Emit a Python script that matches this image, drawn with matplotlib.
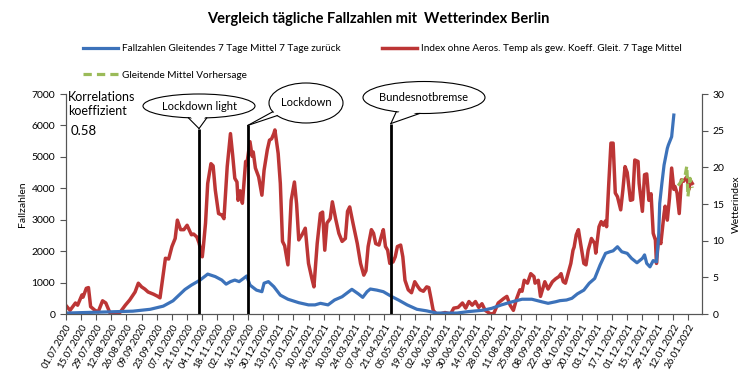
import matplotlib
matplotlib.use("Agg")
import matplotlib.pyplot as plt
import matplotlib.dates as mdates
from matplotlib.patches import Ellipse, Polygon
import numpy as np
import pandas as pd

plt.rcParams['font.family'] = ['Lato', 'DejaVu Sans']

start = pd.Timestamp('2020-07-01')

# Fallzahlen, gleitendes 7-Tage-Mittel (Tage nach 01.07.2020)
blue_days = [0, 32, 62, 78, 90, 99, 110, 116, 124, 131, 138, 144, 148, 152, 156, 160,
             164, 167, 170, 176, 181, 183, 187, 192, 198, 205, 215, 224, 230, 235, 242,
             248, 255, 264, 270, 274, 278, 281, 287, 293, 301, 307, 315, 324, 333, 342,
             361, 371, 385, 393, 402, 412, 421, 430, 439, 445, 452, 456, 462, 467, 472,
             478, 483, 488, 493, 498, 502, 505, 509, 513, 518, 522, 527, 532, 534, 536,
             539, 542, 545, 547, 548, 550, 552, 555, 556, 559, 561]
blue_vals = [30, 60, 90, 150, 250, 420, 780, 920, 1080, 1270, 1190, 1080, 950, 1030, 1080, 1030,
             1130, 1210, 920, 760, 710, 980, 1030, 870, 600, 470, 360, 290, 290, 340, 290,
             445, 550, 785, 640, 530, 710, 795, 760, 710, 550, 445, 290, 150, 100, 30,
             30, 75, 120, 180, 290, 390, 470, 470, 390, 340, 390, 425, 445, 500, 640,
             760, 980, 1130, 1560, 1930, 1980, 2010, 2140, 1980, 1930, 1770, 1630, 1770, 1880, 1610,
             1500, 1700, 1660, 2460, 3520, 4160, 4740, 5270, 5380, 5640, 6330]

# Wetterindex, gleitendes 7-Tage-Mittel
red_days = [0, 4, 9, 11, 15, 16, 19, 21, 23, 27, 30, 34, 37, 41, 46, 50, 55, 59, 64, 67,
            70, 73, 76, 81, 85, 87, 89, 92, 95, 98, 101, 103, 106, 109, 112, 116, 118, 121,
            123, 126, 127, 129, 131, 134, 136, 138, 141, 144, 146, 149, 152, 154, 156, 158,
            159, 161, 163, 166, 167, 170, 172, 173, 175, 178, 181, 183, 186, 188, 190, 192,
            193, 196, 198, 200, 202, 205, 208, 211, 213, 215, 218, 221, 224, 227, 229, 232,
            235, 237, 239, 241, 244, 246, 249, 252, 255, 258, 260, 262, 265, 269, 272, 275,
            277, 279, 282, 284, 286, 289, 291, 293, 295, 297, 299, 302, 304, 306, 309, 311,
            313, 316, 319, 322, 325, 327, 330, 333, 335, 337, 339, 342, 345, 350, 355, 358,
            362, 366, 369, 372, 375, 378, 381, 384, 387, 392, 395, 399, 404, 407, 410, 413,
            416, 419, 421, 423, 426, 429, 432, 433, 436, 438, 440, 442, 445, 449, 452, 455,
            457, 459, 461, 464, 466, 468, 469, 471, 473, 475, 478, 480, 482, 485, 488, 489,
            492, 494, 496, 498, 499, 501, 503, 505, 507, 509, 512, 514, 516, 518, 521, 523,
            525, 528, 529, 532, 534, 536, 538, 540, 542, 544, 545, 547, 549, 552, 553, 555,
            557, 559, 561, 562, 564, 566, 568, 570, 573, 575, 576, 578]
red_vals = [1.2, 0.5, 1.5, 1.2, 2.6, 2.3, 3.5, 3.6, 1.0, 0.5, 0.3, 1.8, 1.5, 0.1, 0.0, 0.2, 1.2, 1.9, 3.0, 4.2,
            3.7, 3.4, 3.0, 2.7, 2.4, 2.2, 4.4, 7.6, 7.5, 9.2, 10.3, 12.8, 11.5, 11.5, 12.1, 10.8, 10.9, 10.5,
            9.7, 7.8, 9.2, 12.4, 17.8, 20.5, 20.2, 16.9, 13.7, 13.5, 13.0, 20.1, 24.6, 21.7, 18.5, 18.0,
            15.5, 16.8, 15.1, 20.8, 20.3, 23.5, 21.5, 22.1, 19.9, 18.7, 16.2, 19.6, 22.4, 23.7, 23.9, 24.6,
            25.1, 21.9, 17.8, 9.9, 9.3, 6.7, 15.5, 18.0, 15.0, 10.1, 10.8, 11.7, 6.9, 4.9, 3.7, 9.6,
            13.7, 13.9, 8.7, 12.4, 13.0, 15.3, 13.0, 11.0, 9.9, 10.3, 14.0, 14.6, 12.4, 9.6, 6.9, 5.3,
            5.9, 9.2, 11.5, 11.0, 9.6, 9.4, 10.5, 11.5, 9.2, 8.7, 6.9, 7.1, 7.8, 9.2, 9.4, 7.8,
            4.6, 3.3, 2.9, 4.4, 3.7, 3.3, 3.1, 3.7, 3.6, 2.1, 0.5, 0.0, 0.0, 0.2, 0.0, 0.8,
            0.9, 1.5, 0.8, 1.7, 1.2, 1.7, 0.9, 1.4, 0.5, 0.0, 0.1, 1.5, 2.1, 2.4, 1.2, 0.5,
            2.1, 3.3, 3.1, 4.6, 4.2, 5.5, 5.1, 4.2, 4.6, 2.4, 3.4, 4.4, 3.4, 4.4, 4.8, 5.1,
            5.5, 4.4, 4.2, 5.8, 6.9, 8.7, 9.1, 10.8, 11.5, 9.6, 6.9, 6.7, 8.7, 10.3, 9.6, 8.3,
            11.9, 12.6, 12.1, 12.7, 11.9, 17.8, 23.3, 23.3, 16.5, 16.0, 14.2, 16.9, 20.1, 19.3, 15.5, 15.6,
            21.0, 20.8, 17.8, 14.0, 19.0, 19.1, 15.5, 16.4, 11.0, 10.1, 6.9, 10.5, 9.6, 13.7, 14.7, 12.8,
            15.8, 19.9, 17.0, 17.4, 16.5, 13.7, 18.3, 18.1, 18.7, 17.0, 18.3, 17.8]

# Vorhersage
green_days = [565, 569, 571, 573, 574, 576, 578]
green_vals = [17.5, 18.3, 18.5, 20.2, 16.0, 18.5, 17.2]

event_dates = ['2020-11-01', '2020-12-16', '2021-04-27']
event_names = ['Lockdown light', 'Lockdown', 'Bundesnotbremse']
event_tops = [5900, 6000, 6060]

tick_dates = pd.date_range('2020-07-01', '2022-01-26', freq='14D')

blue_x = start + pd.to_timedelta(blue_days, unit='D')
red_x = start + pd.to_timedelta(red_days, unit='D')
green_x = start + pd.to_timedelta(green_days, unit='D')

W, H = 756, 379
fig = plt.figure(figsize=(W / 100, H / 100), dpi=100)
ax = fig.add_axes([65.7 / W, 1 - 314 / H, (702 - 65.7) / W, 220 / H])
ax2 = ax.twinx()

col_blue = '#3C72BA'
col_red = '#BC3535'
col_green = '#9BBB59'

l_red, = ax2.plot(red_x, red_vals, color=col_red, lw=2.5, solid_joinstyle='round')
l_green, = ax2.plot(green_x, green_vals, color=col_green, lw=2.3, linestyle=(0, (2.6, 1.6)))
l_blue, = ax.plot(blue_x, blue_vals, color=col_blue, lw=2.3, solid_joinstyle='round')
ax.vlines(pd.to_datetime(event_dates), 0, event_tops, color='black', lw=2)

ax.set_zorder(ax2.get_zorder() + 1)
ax.patch.set_visible(False)

ax.set_xlim(start, start + pd.Timedelta(days=587))
ax.set_ylim(0, 7000)
ax2.set_ylim(0, 30)
ax.set_yticks(range(0, 7001, 1000))
ax2.set_yticks(range(0, 31, 5))
ax.set_xticks(tick_dates)
ax.set_xticklabels([d.strftime('%d.%m.%Y') for d in tick_dates], rotation=60,
                   ha='right', va='top', rotation_mode='anchor', fontsize=7)
ax.tick_params(axis='x', length=4, width=0.8, pad=2, color='#555555')
ax.tick_params(axis='y', labelsize=7.5, length=4, width=0.8, color='#555555')
ax2.tick_params(axis='y', labelsize=7.5, length=4, width=0.8, color='#555555')
for a in (ax, ax2):
    a.spines['top'].set_visible(False)
    for s in ('left', 'right', 'bottom'):
        a.spines[s].set_color('#555555')
        a.spines[s].set_linewidth(0.8)

ax.set_ylabel('Fallzahlen', fontsize=7.5, labelpad=3)
ax2.set_ylabel('Wetterindex', fontsize=7.5, labelpad=5)

fig.text(378 / W, 1 - 19 / H, 'Vergleich tägliche Fallzahlen mit  Wetterindex Berlin',
         ha='center', va='center', fontsize=10.5, fontweight='bold')

fig.legend(handles=[l_blue, l_green, l_red],
           labels=['Fallzahlen Gleitendes 7 Tage Mittel 7 Tage zurück',
                   'Gleitende Mittel Vorhersage',
                   'Index ohne Aeros. Temp als gew. Koeff. Gleit. 7 Tage Mittel'],
           ncol=2, loc='upper left', bbox_to_anchor=(83 / W, 1 - 44 / H),
           frameon=False, fontsize=7.2, handlelength=3.5, handletextpad=0.4,
           labelspacing=1.75, columnspacing=4.1, borderpad=0, borderaxespad=0)

# overlay in pixel coordinates for callouts and text boxes
ov = fig.add_axes([0, 0, 1, 1], zorder=10)
ov.set_xlim(0, W)
ov.set_ylim(H, 0)
ov.axis('off')

ov.text(68, 100.7, 'Korrelations', fontsize=9, va='baseline')
ov.text(68, 115, 'koeffizient', fontsize=9, va='baseline')
ov.text(71, 135, '0.58', fontsize=9.5, va='baseline')

callouts = [  # centre x, centre y, width, height, tail angles
    (199, 106, 112, 24, 101, 82),
    (306, 103, 74, 40, 154, 141),
    (424, 97.5, 122, 32, 117, 94),
]
for name, d, top, (cx, cy, w, h, t1, t2) in zip(event_names, event_dates, event_tops, callouts):
    disp = ax.transData.transform((mdates.date2num(pd.Timestamp(d)), top))
    tip = ov.transData.inverted().transform(disp)
    ov.add_patch(Ellipse((cx, cy), w, h, facecolor='white', edgecolor='black', lw=0.8, zorder=1))
    pts = []
    inner = []
    for t in (t1, t2):
        r = np.radians(t)
        px, py = cx + w / 2 * np.cos(r), cy + h / 2 * np.sin(r)
        pts.append((px, py))
        inner.append((cx + 0.85 * (px - cx), cy + 0.85 * (py - cy)))
    ov.add_patch(Polygon([inner[0], tip, inner[1]], closed=True, facecolor='white',
                         edgecolor='none', zorder=2))
    for p in pts:
        ov.plot([p[0], tip[0]], [p[1], tip[1]], color='black', lw=0.8, zorder=3)
    ov.text(cx, cy, name, ha='center', va='center', fontsize=8, zorder=4)

fig.savefig('out.png', dpi=100)
